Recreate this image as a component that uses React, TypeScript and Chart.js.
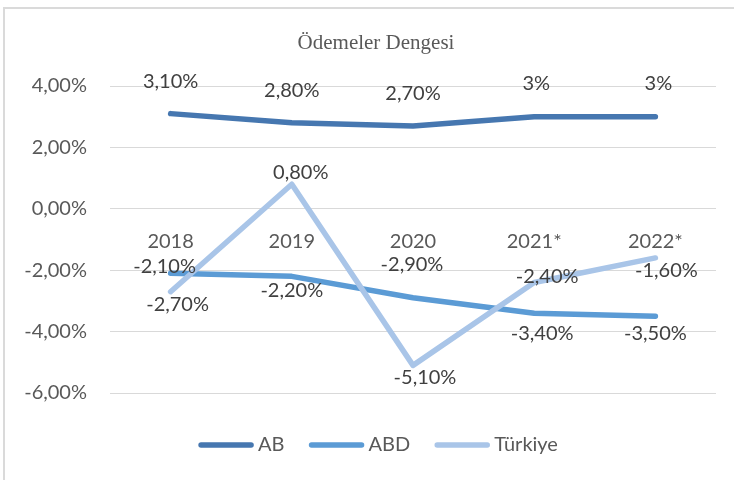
import React, { useEffect, useRef } from 'react';
import { Chart, registerables } from 'chart.js';

Chart.register(...registerables);

// ---- data ----
const chartTitle = 'Ödemeler Dengesi';
const categories = ['2018', '2019', '2020', '2021*', '2022*'];
const seriesNames = ['AB', 'ABD', 'Türkiye'];
const abValues = [3.1, 2.8, 2.7, 3, 3];
const abdValues = [-2.1, -2.2, -2.9, -3.4, -3.5];
const turkiyeValues = [-2.7, 0.8, -5.1, -2.4, -1.6];
const yTickValues = [-6, -4, -2, 0, 2, 4];

// ---- styles ----
const seriesColors = ['#4677B0', '#5B9BD5', '#A9C5E8'];
const sansFont = 'Lato';
const labelOffsets: number[][][] = [
  [[0, -32], [0, -32], [0, -32], [2, -33], [3, -33]],
  [[-6, -7], [0, 14], [-1, -33], [8, 20], [0, 17]],
  [[7, 13], [9, -12], [12, 12], [13, -6], [11, 13]],
];

const fmtTick = (v: number) => v.toFixed(2).replace('.', ',') + '%';
const fmtLabel = (v: number) =>
  Number.isInteger(v) ? `${v}%` : v.toFixed(2).replace('.', ',') + '%';

const backgroundPlugin = {
  id: 'bgBorder',
  beforeDraw(chart: any) {
    const { ctx, width, height } = chart;
    ctx.save();
    ctx.fillStyle = '#ffffff';
    ctx.fillRect(0, 0, width, height);
    ctx.strokeStyle = '#DADADA';
    ctx.lineWidth = 2;
    ctx.beginPath();
    ctx.moveTo(4, height);
    ctx.lineTo(4, 8);
    ctx.lineTo(width, 8);
    ctx.stroke();
    ctx.restore();
  },
};

const titlePlugin = {
  id: 'customTitle',
  afterDraw(chart: any) {
    const ctx = chart.ctx;
    ctx.save();
    ctx.font = '21px "Liberation Serif"';
    ctx.fillStyle = '#595959';
    ctx.textAlign = 'center';
    ctx.textBaseline = 'middle';
    ctx.fillText(chartTitle, 376, 43);
    ctx.restore();
  },
};

const dataLabelsPlugin = {
  id: 'dataLabels',
  afterDatasetsDraw(chart: any) {
    const ctx = chart.ctx;
    ctx.save();
    ctx.font = `20px ${sansFont}`;
    ctx.fillStyle = '#404040';
    ctx.textAlign = 'center';
    ctx.textBaseline = 'middle';
    chart.data.datasets.forEach((ds: any, di: number) => {
      const meta = chart.getDatasetMeta(di);
      meta.data.forEach((pt: any, i: number) => {
        const off = labelOffsets[di][i];
        ctx.fillText(fmtLabel(ds.data[i]), pt.x + off[0], pt.y + off[1]);
      });
    });
    ctx.restore();
  },
};

const customLegendPlugin = {
  id: 'customLegend',
  afterDraw(chart: any) {
    const ctx = chart.ctx;
    const sample = 56;
    const gap = 4;
    const itemGap = 24;
    const cy = 445;
    const cx = 378;
    ctx.save();
    ctx.font = `20px ${sansFont}`;
    const items = chart.data.datasets.map((ds: any) => ({
      text: ds.label,
      color: ds.borderColor,
      w: ctx.measureText(ds.label).width,
    }));
    let total = 0;
    items.forEach((it: any, i: number) => {
      total += sample + gap + it.w + (i > 0 ? itemGap : 0);
    });
    let x = cx - total / 2;
    items.forEach((it: any) => {
      ctx.strokeStyle = it.color;
      ctx.lineWidth = 5.5;
      ctx.lineCap = 'round';
      ctx.beginPath();
      ctx.moveTo(x + 3, cy);
      ctx.lineTo(x + sample - 3, cy);
      ctx.stroke();
      ctx.fillStyle = '#595959';
      ctx.textAlign = 'left';
      ctx.textBaseline = 'middle';
      ctx.fillText(it.text, x + sample + gap, cy);
      x += sample + gap + it.w + itemGap;
    });
    ctx.restore();
  },
};

export default function App() {
  const canvasRef = useRef<HTMLCanvasElement | null>(null);

  useEffect(() => {
    if (!canvasRef.current) return;
    const allValues = [abValues, abdValues, turkiyeValues];
    const chart = new Chart(canvasRef.current, {
      type: 'line',
      data: {
        labels: categories,
        datasets: seriesNames.map((name, i) => ({
          label: name,
          data: allValues[i],
          borderColor: seriesColors[i],
          backgroundColor: seriesColors[i],
          borderWidth: 5.5,
          pointRadius: 0,
          pointHoverRadius: 0,
          tension: 0,
          fill: false,
          borderJoinStyle: 'round',
          borderCapStyle: 'round',
          order: 2 - i,
        })) as any,
      },
      options: {
        responsive: false,
        animation: false,
        devicePixelRatio: 1,
        layout: { padding: { left: 0, right: 18, top: 86, bottom: 87 } },
        plugins: {
          legend: { display: false },
          tooltip: { enabled: false },
          title: { display: false },
        },
        scales: {
          x: {
            type: 'category',
            position: { y: 0 } as any,
            offset: true,
            grid: { display: false },
            border: { display: false },
            ticks: {
              color: '#595959',
              font: { family: sansFont, size: 20 },
              padding: 13,
              maxRotation: 0,
            },
          },
          y: {
            min: -6,
            max: 4,
            afterBuildTicks: (axis: any) => {
              axis.ticks = yTickValues.map((v) => ({ value: v }));
            },
            afterFit: (axis: any) => {
              axis.width = 110;
            },
            grid: { color: '#D9D9D9', lineWidth: 1, drawTicks: false },
            border: { display: false },
            ticks: {
              color: '#595959',
              font: { family: sansFont, size: 20 },
              padding: 23,
              callback: (v: any) => fmtTick(Number(v)),
            },
          },
        },
      },
      plugins: [backgroundPlugin, dataLabelsPlugin, customLegendPlugin, titlePlugin],
    });
    return () => chart.destroy();
  }, []);

  return (
    <div style={{ position: 'absolute', left: 0, top: 0, width: 734, height: 480 }}>
      <canvas ref={canvasRef} width={734} height={480} style={{ width: 734, height: 480, display: 'block' }} />
    </div>
  );
}
